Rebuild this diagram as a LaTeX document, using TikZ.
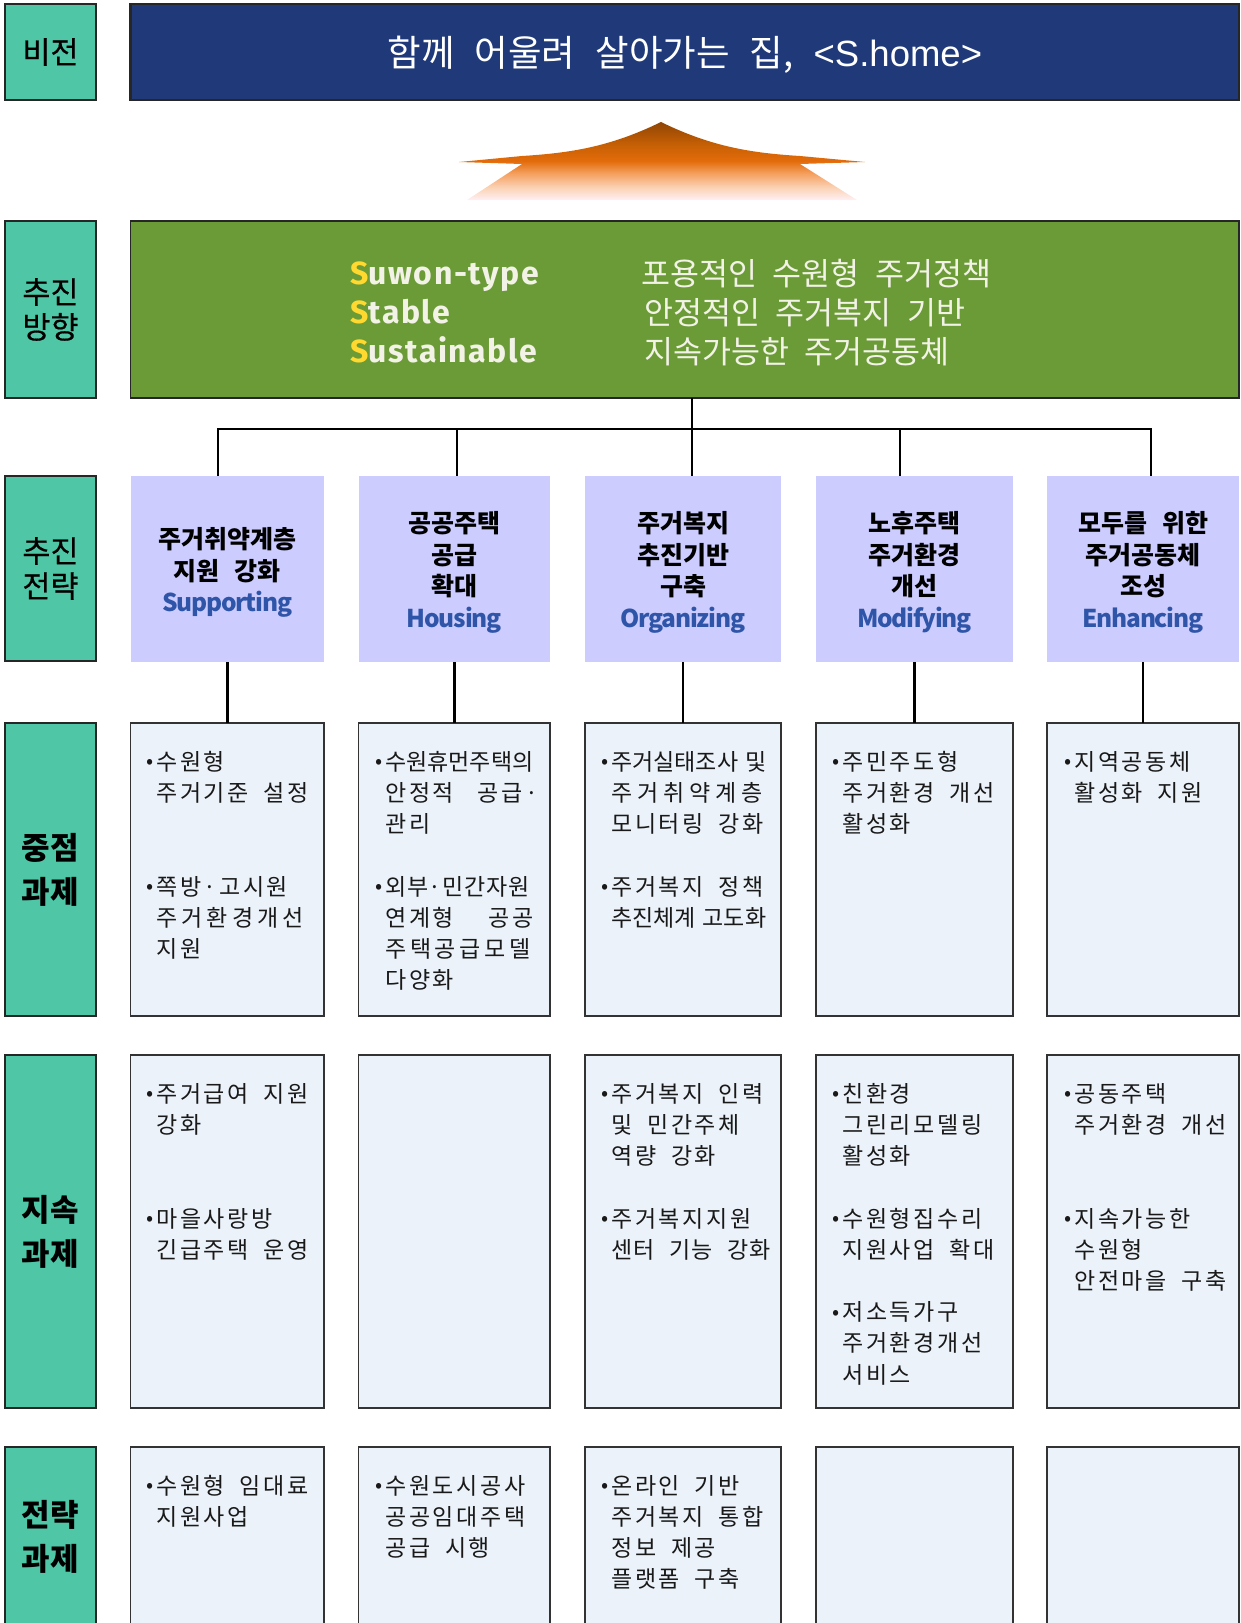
\documentclass[tikz,border=0pt]{standalone}
\usepackage{fontspec}
\setmainfont{Noto Sans CJK KR}
\newcommand\krb{\bfseries}
\newfontfamily\krm{Noto Sans CJK KR}[FakeBold=0.5]
\newfontfamily\lat{Liberation Sans}
\newfontfamily\disp{Fira Sans}
\newcommand\ls[2]{{\addfontfeature{LetterSpace=#1}#2}}
\newcommand\wsp[1]{\spaceskip=#1em\relax}
\newcommand\bodyls{\addfontfeature{LetterSpace=11.5}}
\newcommand\displs{\addfontfeature{LetterSpace=5}}
\newcommand\bul{\llap{\raisebox{1.5pt}{\fontsize{21}{21}\selectfont •}\hspace{3pt}}}
\newcommand\yS{\textcolor{yS}{S}}
\newcommand\tp{\rule{0pt}{28pt}}
\definecolor{arrowA}{HTML}{8F4504}
\definecolor{arrowB}{HTML}{C55F05}
\definecolor{arrowC}{HTML}{E36C0A}
\definecolor{arrowD}{HTML}{F5A060}
\definecolor{arrowE}{HTML}{FBD2B5}
\definecolor{arrowF}{HTML}{FFF0F4}
\pgfdeclareverticalshading{arrowshade}{100bp}{color(0bp)=(arrowF);color(25bp)=(arrowF);color(33bp)=(arrowE);color(42bp)=(arrowD);color(50bp)=(arrowC);color(61bp)=(arrowB);color(75bp)=(arrowA);color(100bp)=(arrowA)}
\definecolor{yS}{HTML}{FFD92F}
\definecolor{lab}{HTML}{4FC7A7}
\definecolor{nav}{HTML}{1F3979}
\definecolor{grn}{HTML}{6B9B37}
\definecolor{viol}{HTML}{CCCCFF}
\definecolor{cellc}{HTML}{EBF2F9}
\definecolor{eng}{HTML}{2F55A8}
\definecolor{dtxt}{HTML}{F2F2E6}
\tikzset{
 box/.style={anchor=north west,inner sep=0pt,outer sep=0pt},
 label/.style={box,fill=lab,draw=black!85,line width=1.1pt,align=center,text=black,font=\krm\fontsize{30.5}{35}\selectfont},
 blabel/.style={label,font=\krb\fontsize{31}{44}\selectfont},
 strat/.style={box,fill=viol,align=center,font=\krb\fontsize{25}{31.5}\selectfont\wsp{.6}},
 cellbox/.style={box,fill=cellc,draw=black!80,line width=1.1pt},
 body/.style={anchor=north west,inner sep=0pt,align=left,text=black!90,font=\fontsize{23}{31.2}\selectfont\bodyls\wsp{.65}},
 eng text/.style={anchor=base west,inner sep=0pt,text=dtxt,font=\disp\bfseries\fontsize{32}{32}\selectfont\displs},
 kor text/.style={anchor=base west,inner sep=0pt,text=dtxt,font=\fontsize{31.5}{32}\selectfont\wsp{.5}},
 conn/.style={draw=black,line width=2.9pt},
}
\newcommand\en[1]{{\fontsize{24.5}{31.5}\selectfont\color{eng}\addfontfeature{LetterSpace=-5}#1}}
\begin{document}
\begin{tikzpicture}[x=1pt,y=-1pt]
\useasboundingbox (0,0) rectangle (1241,1623);
\clip (0,0) rectangle (1241,1623);
% left labels
\node[label,line width=2.2pt,minimum width=91pt,minimum height=96pt] (l1) at (5,4) {비전};
\node[label,minimum width=91pt,minimum height=177pt] (l2) at (5,221) {추진\\방향};
\node[label,minimum width=91pt,minimum height=185pt] (l3) at (5,476) {추진\\전략};
\node[blabel,minimum width=91pt,minimum height=293pt] (l4) at (5,723) {중점\\과제};
\node[blabel,minimum width=91pt,minimum height=353pt] (l5) at (5,1055) {지속\\과제};
\node[blabel,minimum width=91pt,minimum height=179pt] (l6) at (5,1447) {전략\\과제};
% vision
\node[box,fill=nav,draw=black!85,line width=2.2pt,minimum width=1108.5pt,minimum height=96pt,text=white,font=\fontsize{36.5}{40}\selectfont\wsp{.55}] (v) at (130.5,4) {\rule{0pt}{36pt}함께 어울려 살아가는 집, {\lat <S.home>}};
% arrow
\shade[shading=arrowshade] (661,122) .. controls (610,147) and (570,153) .. (522,156) -- (459,162) -- (522,164) -- (467,200) -- (857,200) -- (800,164) -- (865,162) -- (800,156) .. controls (752,153) and (712,147) .. (661,122) -- cycle;
% direction
\node[box,fill=grn,draw=black!85,line width=1.1pt,minimum width=1108.5pt,minimum height=177pt] (d) at (130.5,221) {};
\node[eng text] (d1) at (350,284) {\yS uwon-type};
\node[eng text] (d2) at (350,323) {\yS table};
\node[eng text] (d3) at (350,362) {\yS ustainable};
\node[kor text] (e1) at (641,285) {포용적인 수원형 주거정책};
\node[kor text] (e2) at (644,324) {안정적인 주거복지 기반};
\node[kor text] (e3) at (644,363) {지속가능한 주거공동체};
% strategies
\node[strat,minimum width=193.5pt,minimum height=186pt] (s1) at (130.5,476) {\tp 주거취약계층\\지원 강화\\\en{Supporting}};
\node[strat,minimum width=191.5pt,minimum height=186pt] (s2) at (358.5,476) {\tp 공공주택\\공급\\확대\\\en{Housing}};
\node[strat,minimum width=196pt,minimum height=186pt] (s3) at (585,476) {\tp 주거복지\\추진기반\\구축\\\en{Organizing}};
\node[strat,minimum width=197pt,minimum height=186pt] (s4) at (816,476) {\tp 노후주택\\주거환경\\개선\\\en{Modifying}};
\node[strat,minimum width=192pt,minimum height=186pt] (s5) at (1047,476) {\tp 모두를 위한\\주거공동체\\조성\\\en{Enhancing}};
% row boxes
\node[cellbox,minimum width=193.5pt,minimum height=293pt] (f1) at (130.5,723) {};
\node[cellbox,minimum width=191.5pt,minimum height=293pt] (f2) at (358.5,723) {};
\node[cellbox,minimum width=196pt,minimum height=293pt] (f3) at (585,723) {};
\node[cellbox,minimum width=197pt,minimum height=293pt] (f4) at (816,723) {};
\node[cellbox,minimum width=192pt,minimum height=293pt] (f5) at (1047,723) {};
\node[cellbox,minimum width=193.5pt,minimum height=353pt] (g1) at (130.5,1055) {};
\node[cellbox,minimum width=191.5pt,minimum height=353pt] (g2) at (358.5,1055) {};
\node[cellbox,minimum width=196pt,minimum height=353pt] (g3) at (585,1055) {};
\node[cellbox,minimum width=197pt,minimum height=353pt] (g4) at (816,1055) {};
\node[cellbox,minimum width=192pt,minimum height=353pt] (g5) at (1047,1055) {};
\node[cellbox,minimum width=193.5pt,minimum height=190pt] (h1) at (130.5,1447) {};
\node[cellbox,minimum width=191.5pt,minimum height=190pt] (h2) at (358.5,1447) {};
\node[cellbox,minimum width=196pt,minimum height=190pt] (h3) at (585,1447) {};
\node[cellbox,minimum width=197pt,minimum height=190pt] (h4) at (816,1447) {};
\node[cellbox,minimum width=192pt,minimum height=190pt] (h5) at (1047,1447) {};
% body texts
\node[body] (tf1) at (156,751) {\bul 수원형\\주거기준 설정\\\\\\\bul 쪽방·고시원\\\ls{18}{주거환경개선}\\지원};
\node[body] (tf2) at (385,751) {\bul \ls{0}{수원휴먼주택의}\\{\wsp{1.03}안정적 공급·}\\관리\\\\\bul \ls{3}{외부·민간자원}\\{\wsp{1.52}연계형 공공}\\\ls{16}{주택공급모델}\\다양화};
\node[body] (tf3) at (611,751) {\bul \ls{0}{\wsp{.3}주거실태조사 및}\\\ls{21}{주거취약계층}\\모니터링 강화\\\\\bul 주거복지 정책\\\ls{0}{\wsp{.3}추진체계 고도화}};
\node[body] (tf4) at (842,751) {\bul 주민주도형\\주거환경 개선\\활성화};
\node[body] (tf5) at (1074,751) {\bul 지역공동체\\활성화 지원};
\node[body] (tg1) at (156,1083) {\bul 주거급여 지원\\강화\\\\\\\bul 마을사랑방\\긴급주택 운영};
\node[body] (tg3) at (611,1083) {\bul 주거복지 인력\\및 민간주체\\역량 강화\\\\\bul 주거복지지원\\\ls{4}{센터 기능 강화}};
\node[body] (tg4) at (842,1083) {\bul 친환경\\그린리모델링\\활성화\\\\\bul 수원형집수리\\지원사업 확대\\\\\bul 저소득가구\\주거환경개선\\서비스};
\node[body] (tg5) at (1074,1083) {\bul 공동주택\\주거환경 개선\\\\\\\bul 지속가능한\\수원형\\안전마을 구축};
\node[body] (th1) at (156,1475) {\bul 수원형 임대료\\지원사업};
\node[body] (th2) at (385,1475) {\bul 수원도시공사\\공공임대주택\\공급 시행};
\node[body] (th3) at (611,1475) {\bul 온라인 기반\\주거복지 통합\\정보 제공\\플랫폼 구축};
% connectors
\coordinate (bus) at (692,429);
\coordinate (b1) at (218,429);
\coordinate (b2) at (457,429);
\coordinate (b4) at (900,429);
\coordinate (b5) at (1151,429);
\draw[conn] (d.south -| bus) -- (bus);
\draw[conn,line cap=rect] (b1) -- (b5);
\draw[conn] (b1) -- (b1 |- s1.north);
\draw[conn] (b2) -- (b2 |- s2.north);
\draw[conn] (bus) -- (bus |- s3.north);
\draw[conn] (b4) -- (b4 |- s4.north);
\draw[conn] (b5) -- (b5 |- s5.north);
\draw[conn] (s1.south) -- (f1.north);
\draw[conn] (s2.south) -- (f2.north);
\draw[conn] (s3.south) -- (f3.north);
\draw[conn] (s4.south) -- (f4.north);
\draw[conn] (s5.south) -- (f5.north);
\end{tikzpicture}
\end{document}
